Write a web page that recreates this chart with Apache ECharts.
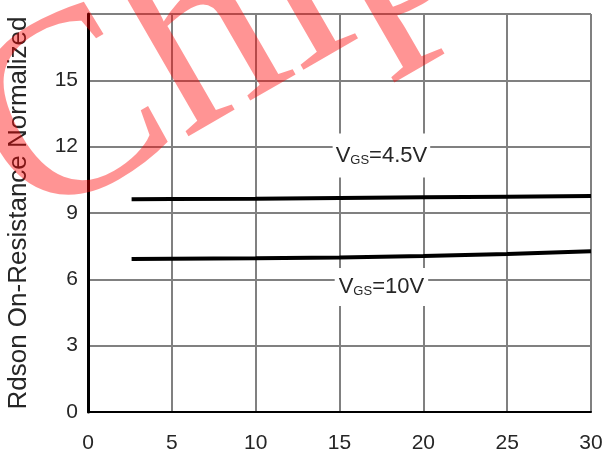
<!DOCTYPE html>
<html>
<head>
<meta charset="utf-8">
<script src="https://cdn.jsdelivr.net/npm/echarts@6/dist/echarts.min.js"></script>
<style>
  html, body { margin: 0; padding: 0; background: #fff; }
  #chart { width: 603px; height: 458px; }
</style>
</head>
<body>
<div id="chart"></div>
<script>
// drain current (A) on x, normalized Rdson on y
const xValues = [2.6, 5, 10, 15, 20, 25, 30];
const vgs45 = [9.62, 9.63, 9.65, 9.68, 9.71, 9.74, 9.77];
const vgs10 = [6.92, 6.93, 6.95, 6.99, 7.05, 7.15, 7.27];
const xTicks = [0, 5, 10, 15, 20, 25, 30];
const yTicks = [0, 3, 6, 9, 12, 15];

const font = '"Liberation Sans", Arial, sans-serif';

const toPairs = (ys) => xValues.map((x, i) => [x, ys[i]]);

const labelRich = {
  v: { fontSize: 22, fontFamily: font, color: '#262626' },
  s: { fontSize: 13, fontFamily: font, color: '#262626', padding: [9, 0, 0, 0] }
};

const curveLabel = (text, coord, pad) => ({
  symbol: 'rect',
  symbolSize: 1,
  silent: true,
  itemStyle: { color: 'transparent' },
  data: [{
    coord: coord,
    label: {
      show: true,
      position: 'inside',
      formatter: text,
      rich: labelRich,
      backgroundColor: '#fff',
      padding: pad
    }
  }]
});

const myChart = echarts.init(document.getElementById('chart'));

myChart.setOption({
  animation: false,
  grid: { left: 88, top: 14, right: 12, bottom: 46, outerBoundsMode: 'none' },
  xAxis: {
    type: 'value',
    min: 0,
    max: 30,
    interval: 5,
    axisLine: { lineStyle: { color: '#000', width: 2 } },
    axisTick: { show: false },
    axisLabel: {
      margin: 21,
      fontSize: 21,
      fontFamily: font,
      color: '#262626',
      formatter: (v) => xTicks.includes(v) ? String(v) : ''
    },
    splitLine: { lineStyle: { color: '#808080', width: 2 } }
  },
  yAxis: {
    type: 'value',
    min: 0,
    max: 18,
    interval: 3,
    name: 'Rdson On-Resistance Normalized',
    nameLocation: 'middle',
    nameRotate: 90,
    nameGap: 56,
    nameTextStyle: { fontSize: 26, fontFamily: font, color: '#262626' },
    axisLine: { lineStyle: { color: '#000', width: 3 } },
    axisTick: { show: false },
    axisLabel: {
      margin: 10,
      fontSize: 21,
      fontFamily: font,
      color: '#262626',
      formatter: (v) => yTicks.includes(v) ? String(v) : ''
    },
    splitLine: { lineStyle: { color: '#808080', width: 2 } }
  },
  series: [
    {
      name: 'VGS=4.5V',
      type: 'line',
      data: toPairs(vgs45),
      showSymbol: false,
      lineStyle: { color: '#000', width: 4 },
      markPoint: curveLabel('{v|V}{s|GS}{v|=4.5V}', [17.5, 11.6], [11, 3])
    },
    {
      name: 'VGS=10V',
      type: 'line',
      data: toPairs(vgs10),
      showSymbol: false,
      lineStyle: { color: '#000', width: 4 },
      markPoint: curveLabel('{v|V}{s|GS}{v|=10V}', [17.5, 5.65], [8, 4])
    }
  ],
  graphic: [{
    type: 'text',
    x: -4,
    y: 167,
    rotation: Math.PI / 6,
    z: 100,
    silent: true,
    style: {
      text: 'Chip',
      font: 'normal 265px "Liberation Serif", serif',
      fill: 'rgba(255, 0, 0, 0.42)',
      textAlign: 'left',
      textVerticalAlign: 'middle'
    }
  }]
});

window.onresize = function () {
  myChart.resize();
};
</script>
</body>
</html>
